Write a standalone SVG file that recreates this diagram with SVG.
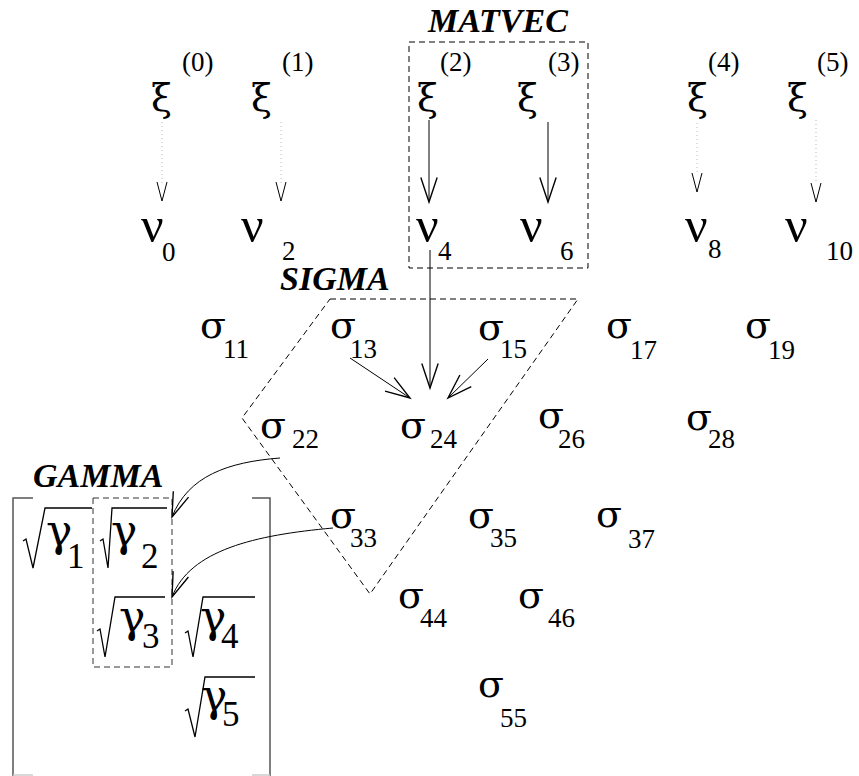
<svg xmlns="http://www.w3.org/2000/svg" width="859" height="776" viewBox="0 0 859 776">
<style>
text{font-family:"Liberation Serif","Times New Roman",serif;fill:#000}
.g{font-size:38px;font-family:"DejaVu Serif",serif}
.n{font-size:50px}
.x{font-size:38px;font-family:"DejaVu Serif",serif}
.s{font-size:27px}
.gm{font-size:44px;font-family:"DejaVu Serif",serif}
.gs{font-size:35px}
.lbl{font-size:34px;font-style:italic;font-weight:bold}
.dash{fill:none;stroke:#000;stroke-width:1;stroke-dasharray:6 4}
.dot{fill:none;stroke:#bbb;stroke-width:1;stroke-dasharray:1 3}
.head{fill:none;stroke:#000;stroke-width:1}
.arr{fill:none;stroke:#000;stroke-width:1;marker-end:url(#ah)}
.rad{fill:none;stroke:#000;stroke-width:1.3;stroke-linejoin:miter}
.brk{fill:none;stroke:#555;stroke-width:1.5}
</style>
<defs>
<marker id="ah" markerUnits="userSpaceOnUse" markerWidth="30" markerHeight="30" viewBox="-20 -10 22 20" refX="0" refY="0" orient="auto">
<path d="M-18,-6 L0,0 L-18,6" fill="none" stroke="#000" stroke-width="1"/>
</marker>
</defs>
<rect width="859" height="776" fill="#fff"/>

<g id="matvec">
<rect class="dash" x="409" y="42" width="179" height="226"/>
<text class="lbl" x="428" y="32">MATVEC</text>
</g>
<g id="sigma">
<polygon class="dash" points="330,299 578,299 370,594 242,418"/>
<text class="lbl" x="280" y="290">SIGMA</text>
</g>
<g id="gamma">
<path class="brk" d="M33,498 H13 V776 M252,498 H270 V776"/>
<path d="M13,775 H33 M252,775 H270" stroke="#ccc" stroke-width="1.5"/>
<rect class="dash" x="93" y="498" width="79" height="169" style="stroke:#333"/>
<text class="lbl" x="33" y="487">GAMMA</text>
</g>

<g id="xi0"><text class="x" x="151" y="111">ξ</text><text class="s" x="182" y="71">(0)</text></g>
<g id="xi1"><text class="x" x="251" y="111">ξ</text><text class="s" x="282" y="71">(1)</text></g>
<g id="xi2"><text class="x" x="417" y="111">ξ</text><text class="s" x="440" y="71">(2)</text></g>
<g id="xi3"><text class="x" x="517" y="111">ξ</text><text class="s" x="548" y="71">(3)</text></g>
<g id="xi4"><text class="x" x="687" y="111">ξ</text><text class="s" x="708" y="71">(4)</text></g>
<g id="xi5"><text class="x" x="787" y="111">ξ</text><text class="s" x="817" y="71">(5)</text></g>

<g id="nu0"><text class="n" x="141" y="242">ν</text><text class="s" x="162" y="261">0</text></g>
<g id="nu2"><text class="n" x="241" y="242">ν</text><text class="s" x="282" y="260">2</text></g>
<g id="nu4"><text class="n" x="416" y="242">ν</text><text class="s" x="438" y="260">4</text></g>
<g id="nu6"><text class="n" x="520" y="242">ν</text><text class="s" x="560" y="260">6</text></g>
<g id="nu8"><text class="n" x="685" y="242">ν</text><text class="s" x="708" y="258">8</text></g>
<g id="nu10"><text class="n" x="785" y="242">ν</text><text class="s" x="826" y="260">10</text></g>

<g id="s11"><text class="g" x="200" y="338">σ</text><text class="s" x="223" y="358">11</text></g>
<g id="s13"><text class="g" x="330" y="338">σ</text><text class="s" x="350" y="358">13</text></g>
<g id="s15"><text class="g" x="478" y="340">σ</text><text class="s" x="500" y="358">15</text></g>
<g id="s17"><text class="g" x="606" y="338">σ</text><text class="s" x="630" y="359">17</text></g>
<g id="s19"><text class="g" x="745" y="338">σ</text><text class="s" x="768" y="359">19</text></g>
<g id="s22"><text class="g" x="260" y="438">σ</text><text class="s" x="292" y="448">22</text></g>
<g id="s24"><text class="g" x="400" y="438">σ</text><text class="s" x="430" y="448">24</text></g>
<g id="s26"><text class="g" x="538" y="428">σ</text><text class="s" x="558" y="448">26</text></g>
<g id="s28"><text class="g" x="686" y="430">σ</text><text class="s" x="708" y="448">28</text></g>
<g id="s33"><text class="g" x="330" y="528">σ</text><text class="s" x="350" y="547">33</text></g>
<g id="s35"><text class="g" x="468" y="528">σ</text><text class="s" x="490" y="547">35</text></g>
<g id="s37"><text class="g" x="596" y="527">σ</text><text class="s" x="628" y="548">37</text></g>
<g id="s44"><text class="g" x="398" y="608">σ</text><text class="s" x="420" y="627">44</text></g>
<g id="s46"><text class="g" x="518" y="608">σ</text><text class="s" x="548" y="627">46</text></g>
<g id="s55"><text class="g" x="478" y="697">σ</text><text class="s" x="500" y="727">55</text></g>

<g id="g1"><path class="rad" d="M23,541 L26,539 L33,568 L45,508 L92,508"/><text class="gm" x="46" y="546">γ</text><text class="gs" x="67" y="568">1</text></g>
<g id="g2"><path class="rad" d="M100,541 L103,539 L108,568 L112,508 L167,508"/><text class="gm" x="111" y="546">γ</text><text class="gs" x="141" y="568">2</text></g>
<g id="g3"><path class="rad" d="M97,631 L100,629 L105,657 L115,597 L165,597"/><text class="gm" x="119" y="632">γ</text><text class="gs" x="142" y="648">3</text></g>
<g id="g4"><path class="rad" d="M185,633 L188,631 L193,657 L203,597 L255,597"/><text class="gm" x="200" y="632">γ</text><text class="gs" x="221" y="648">4</text></g>
<g id="g5"><path class="rad" d="M185,711 L188,709 L195,737 L205,677 L255,677"/><text class="gm" x="201" y="711">γ</text><text class="gs" x="222" y="726">5</text></g>

<g id="connectors">
<path class="dot" d="M162,122 V183"/><path class="head" d="M157,182 L162,201 L167,182"/>
<path class="dot" d="M281,122 V183"/><path class="head" d="M276,182 L281,201 L286,182"/>
<path class="dot" d="M697,123 V173"/><path class="head" d="M692,173 L697,192 L702,173"/>
<path class="dot" d="M816,120 V183"/><path class="head" d="M811,183 L816,202 L821,183"/>
<path class="arr" d="M429,120 V202"/>
<path class="arr" d="M548,122 V202"/>
<path class="arr" d="M430,250 V388"/>
<path class="arr" d="M350,358 L410,398"/>
<path class="arr" d="M488,359 L448,398"/>
<path class="arr" d="M280,458 C228,462 188,476 172,517"/>
<path class="arr" d="M333,528 C255,535 190,550 172,597"/>
</g>
</svg>
